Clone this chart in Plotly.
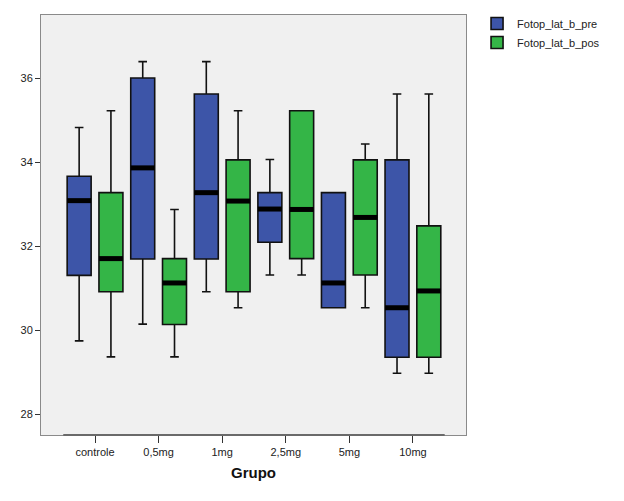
import plotly.graph_objects as go

groups = ["controle", "0,5mg", "1mg", "2,5mg", "5mg", "10mg"]

pre_low = [29.74, 30.14, 30.91, 31.31, 30.53, 28.97]
pre_q1 = [31.30, 31.69, 31.69, 32.09, 30.53, 29.35]
pre_med = [33.08, 33.86, 33.27, 32.88, 31.12, 30.53]
pre_q3 = [33.66, 36.00, 35.62, 33.27, 33.27, 34.05]
pre_high = [34.82, 36.39, 36.39, 34.06, 33.27, 35.62]

pos_low = [29.36, 29.36, 30.53, 31.31, 30.53, 28.97]
pos_q1 = [30.91, 30.13, 30.91, 31.70, 31.31, 29.35]
pos_med = [31.70, 31.12, 33.07, 32.87, 32.68, 30.93]
pos_q3 = [33.27, 31.70, 34.05, 35.22, 34.05, 32.48]
pos_high = [35.22, 32.87, 35.22, 35.22, 34.43, 35.62]

y_ticks = [28, 30, 32, 34, 36]

OFFSET = 0.25
BW = 0.377
BLUE = "#3d55a8"
GREEN = "#34b547"

fig = go.Figure()
series = [
    ("Fotop_lat_b_pre", -OFFSET, BLUE, pre_low, pre_q1, pre_med, pre_q3, pre_high),
    ("Fotop_lat_b_pos", OFFSET, GREEN, pos_low, pos_q1, pos_med, pos_q3, pos_high),
]
for name, off, col, lo, q1, med, q3, hi in series:
    xs = [i + off for i in range(len(groups))]
    fig.add_trace(go.Box(
        name=name, x=xs, q1=q1, median=med, q3=q3,
        lowerfence=lo, upperfence=hi, width=BW,
        fillcolor=col, line=dict(color="#111111", width=1.6),
        whiskerwidth=0.36, boxpoints=False, showlegend=True,
    ))
for name, off, col, lo, q1, med, q3, hi in series:
    mx, my = [], []
    for i, m in enumerate(med):
        x = i + off
        mx += [x - BW / 2, x + BW / 2, None]
        my += [m, m, None]
    fig.add_trace(go.Scatter(x=mx, y=my, mode="lines",
                             line=dict(color="black", width=5),
                             showlegend=False, hoverinfo="skip"))

fig.add_shape(type="line", xref="x", yref="paper", x0=-0.5, x1=len(groups) - 0.5,
              y0=0, y1=0, line=dict(color="#6a6a6a", width=2))

fig.update_layout(
    width=616, height=493,
    margin=dict(l=33, r=158, t=7, b=66, autoexpand=False),
    paper_bgcolor="white", plot_bgcolor="#f0f0f0",
    font=dict(family="Arial, Liberation Sans, sans-serif", size=11, color="#222222"),
    legend=dict(x=1.026, y=0.998, yref="container", xanchor="left", yanchor="top",
                font=dict(size=11, color="#222222"), bgcolor="rgba(0,0,0,0)",
                itemwidth=30, tracegroupgap=0),
    xaxis=dict(
        range=[-0.85, 5.835], tickmode="array",
        tickvals=list(range(len(groups))), ticktext=groups,
        ticks="outside", ticklen=7, tickcolor="#333333", tickwidth=1,
        showgrid=False, zeroline=False,
        showline=True, linecolor="#8a8a8a", linewidth=1, mirror=True,
        title=dict(text="<b>Grupo</b>", font=dict(size=15, color="#111111"), standoff=10),
    ),
    yaxis=dict(
        range=[27.5, 37.5], tickmode="array", tickvals=y_ticks,
        ticks="outside", ticklen=5, tickcolor="#333333", tickwidth=1,
        showgrid=False, zeroline=False,
        showline=True, linecolor="#8a8a8a", linewidth=1, mirror=True,
    ),
)

fig.write_html("out.html")
